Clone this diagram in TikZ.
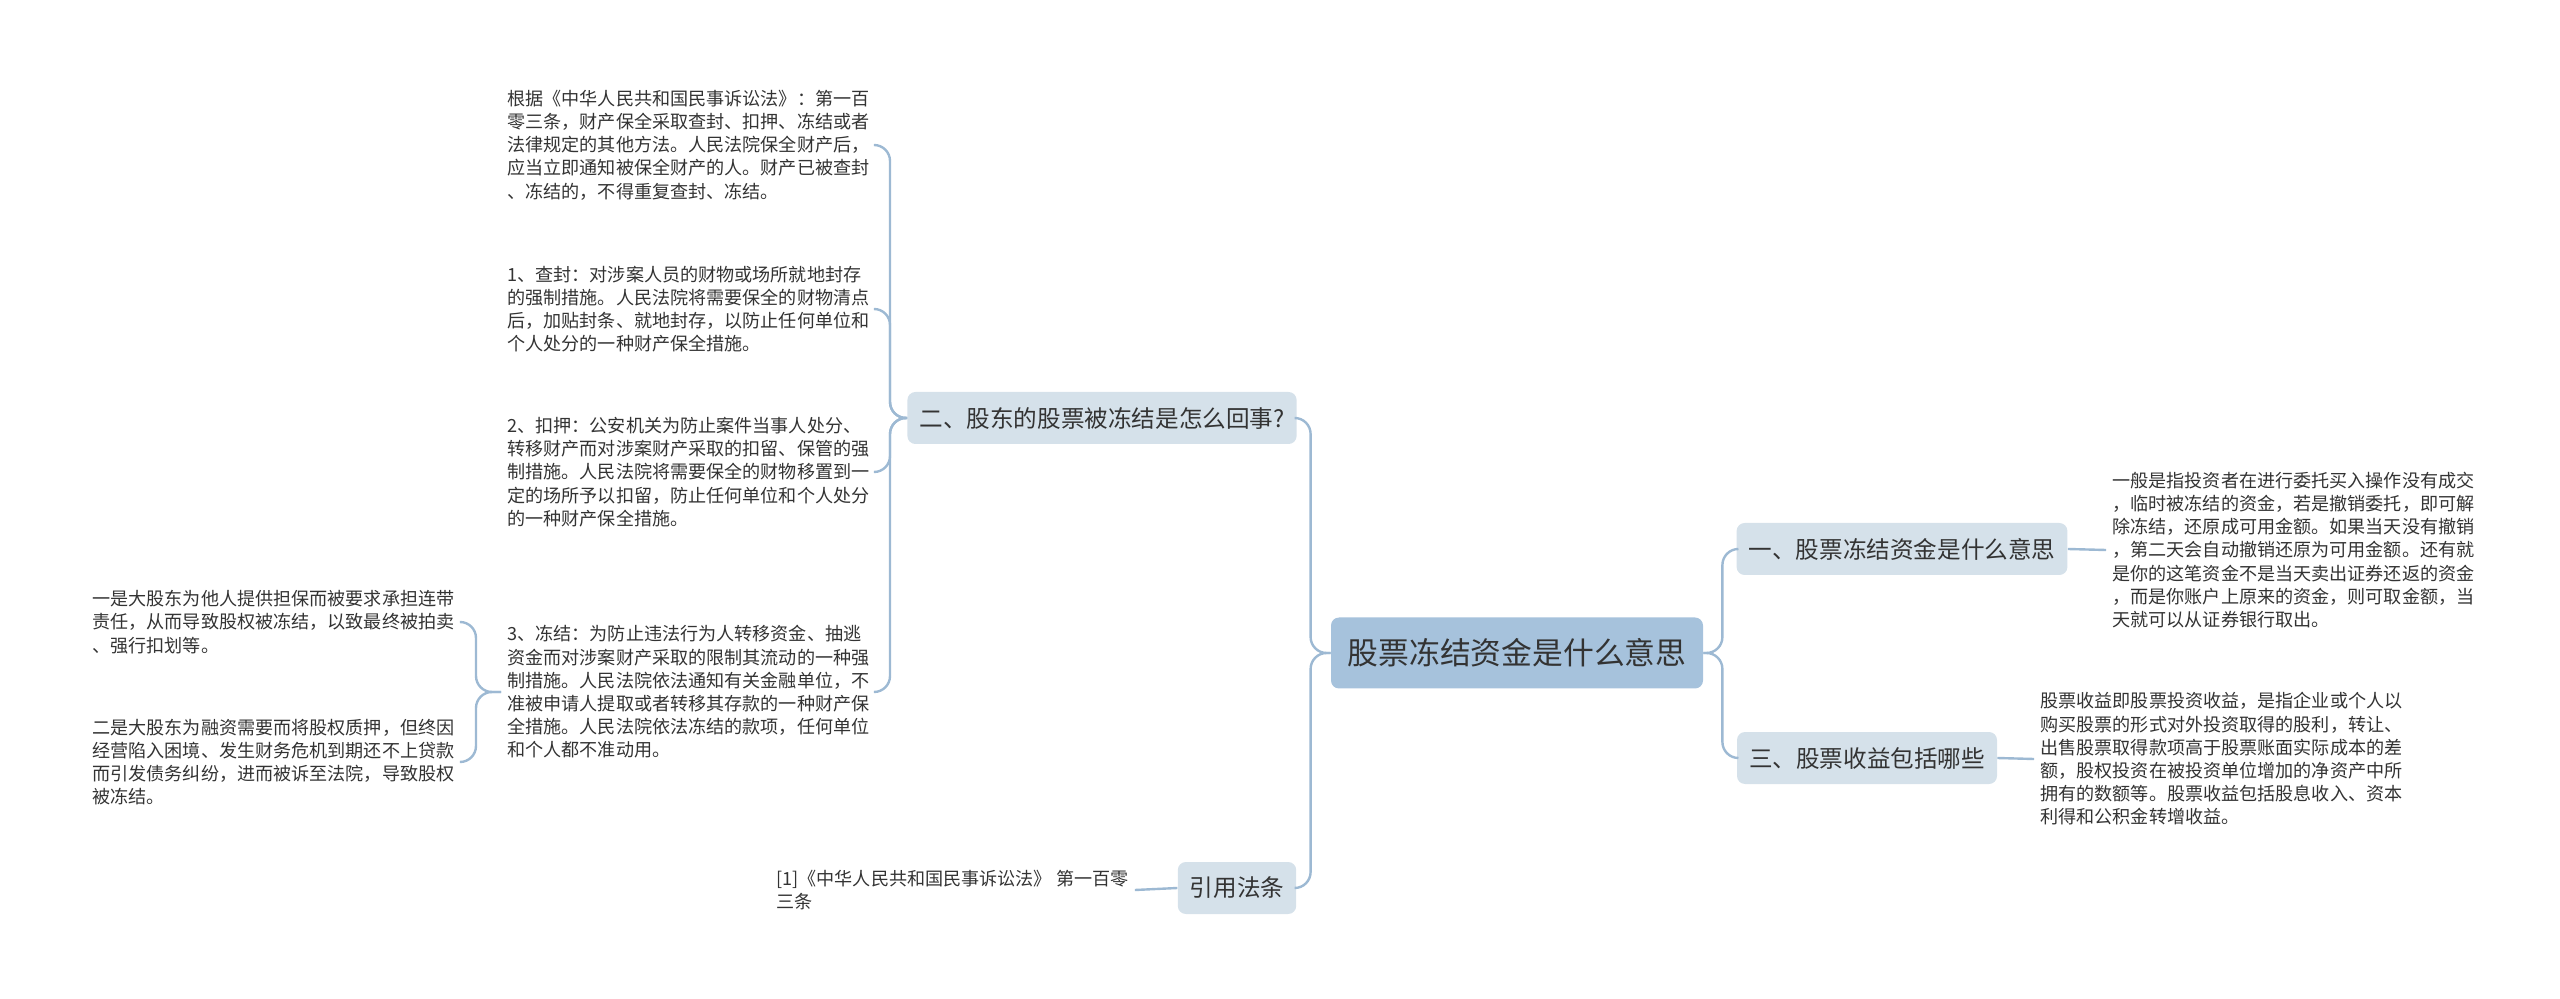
\documentclass[tikz,border=0pt]{standalone}
\usepackage{fontspec}
\newfontfamily\cjk{Noto Sans CJK SC}
\usetikzlibrary{positioning}
\definecolor{rootfill}{HTML}{A6C2DC}
\definecolor{branchfill}{HTML}{D5E1EA}
\definecolor{linkcol}{HTML}{9DB9D3}
\definecolor{txt}{HTML}{333333}

\begin{document}
\begin{tikzpicture}[x=0.5pt, y=-0.5pt,
    rootbox/.style={fill=rootfill, rounded corners=4pt, minimum width=186pt, minimum height=35.5pt, text=txt, font=\cjk\fontsize{15.4}{18}\selectfont},
    branchbox/.style={fill=branchfill, rounded corners=4pt, minimum height=26pt, inner xsep=6pt, text=txt, font=\cjk\fontsize{11.8}{14}\selectfont},
    leaf/.style={anchor=west, align=left, inner xsep=3pt, inner ysep=2pt, text=txt, font=\cjk\fontsize{9.05}{11.6}\selectfont},
    link/.style={draw=linkcol, line width=1.2pt, rounded corners=8pt}]
    \useasboundingbox (0,0) rectangle (2560,999);
    \node[rootbox] (root) at (1517,653) {股票冻结资金是什么意思};
    \node[branchbox] (b2) at (1102,418) {二、股东的股票被冻结是怎么回事?};
    \node[branchbox] (law) at (1237,888) {引用法条};
    \node[branchbox] (b1) at (1902,549) {一、股票冻结资金是什么意思};
    \node[branchbox] (b3) at (1867,758) {三、股票收益包括哪些};
    \node[leaf] (t1) at (501,145) {根据《中华人民共和国民事诉讼法》：第一百\\零三条，财产保全采取查封、扣押、冻结或者\\法律规定的其他方法。人民法院保全财产后，\\应当立即通知被保全财产的人。财产已被查封\\、冻结的，不得重复查封、冻结。};
    \node[leaf] (t2) at (501,309) {1、查封：对涉案人员的财物或场所就地封存\\的强制措施。人民法院将需要保全的财物清点\\后，加贴封条、就地封存，以防止任何单位和\\个人处分的一种财产保全措施。};
    \node[leaf] (t3) at (501,472) {2、扣押：公安机关为防止案件当事人处分、\\转移财产而对涉案财产采取的扣留、保管的强\\制措施。人民法院将需要保全的财物移置到一\\定的场所予以扣留，防止任何单位和个人处分\\的一种财产保全措施。};
    \node[leaf] (t4) at (501,692) {3、冻结：为防止违法行为人转移资金、抽逃\\资金而对涉案财产采取的限制其流动的一种强\\制措施。人民法院依法通知有关金融单位，不\\准被申请人提取或者转移其存款的一种财产保\\全措施。人民法院依法冻结的款项，任何单位\\和个人都不准动用。};
    \node[leaf] (t4a) at (86,622) {一是大股东为他人提供担保而被要求承担连带\\责任，从而导致股权被冻结，以致最终被拍卖\\、强行扣划等。};
    \node[leaf] (t4b) at (86,762) {二是大股东为融资需要而将股权质押，但终因\\经营陷入困境、发生财务危机到期还不上贷款\\而引发债务纠纷，进而被诉至法院，导致股权\\被冻结。};
    \node[leaf] (r1) at (2106,550) {一般是指投资者在进行委托买入操作没有成交\\，临时被冻结的资金，若是撤销委托，即可解\\除冻结，还原成可用金额。如果当天没有撤销\\，第二天会自动撤销还原为可用金额。还有就\\是你的这笔资金不是当天卖出证券还返的资金\\，而是你账户上原来的资金，则可取金额，当\\天就可以从证券银行取出。};
    \node[leaf] (r2) at (2034,759) {股票收益即股票投资收益，是指企业或个人以\\购买股票的形式对外投资取得的股利，转让、\\出售股票取得款项高于股票账面实际成本的差\\额，股权投资在被投资单位增加的净资产中所\\拥有的数额等。股票收益包括股息收入、资本\\利得和公积金转增收益。};
    \node[leaf] (c1) at (770,890) {[1]《中华人民共和国民事诉讼法》 第一百零\\三条};
    \draw[link] (root.west) -- ++(-20,0) |- (b2.east);
    \draw[link] (root.west) -- ++(-20,0) |- (law.east);
    \draw[link] (root.east) -- ++(19,0) |- (b1.west);
    \draw[link] (root.east) -- ++(19,0) |- (b3.west);
    \draw[link] (b2.west) -- ++(-17,0) |- (t1.east);
    \draw[link] (b2.west) -- ++(-17,0) |- (t2.east);
    \draw[link] (b2.west) -- ++(-17,0) |- (t3.east);
    \draw[link] (b2.west) -- ++(-17,0) |- (t4.east);
    \draw[link] (t4.west) -- ++(-25,0) |- (t4a.east);
    \draw[link] (t4.west) -- ++(-25,0) |- (t4b.east);
    \draw[link] (b1.east) -- (r1.west);
    \draw[link] (b3.east) -- (r2.west);
    \draw[link] (law.west) -- (c1.east);
  \end{tikzpicture}
\end{document}
